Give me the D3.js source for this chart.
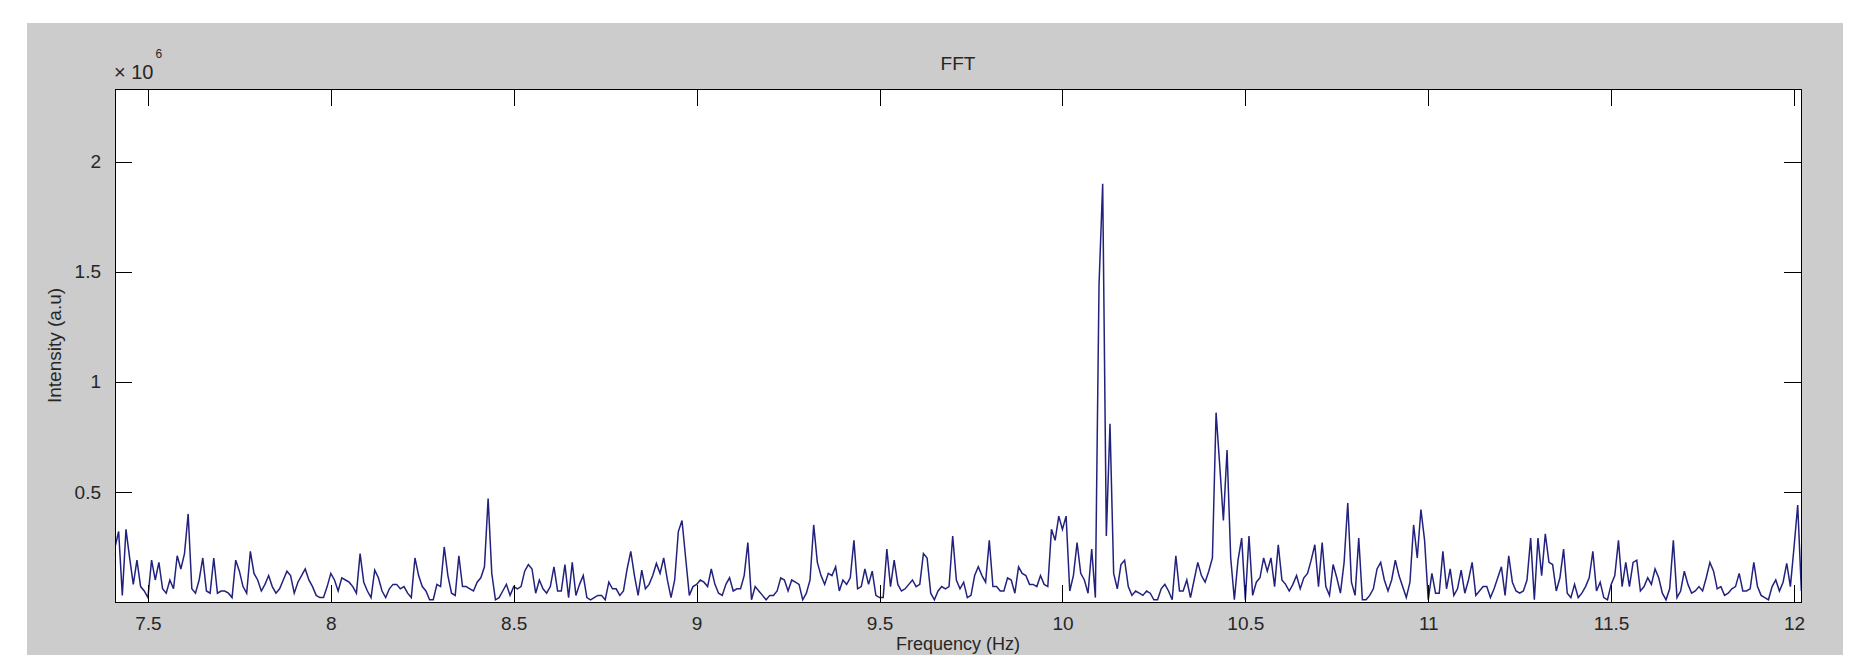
<!DOCTYPE html>
<head>
  <meta charset="utf-8" />
  <script src="https://d3js.org/d3.v7.min.js"></script>
  <style>
    body {
      margin: 0;
      background: #fff;
    }
    text {
      font-family: "Liberation Sans", Arial, sans-serif;
      fill: #262626;
    }
  </style>
</head>

<body>
  <script>
    var width = 1864,
      height = 655;

    // spectre, un point par pas de 0.01 Hz a partir de 7.41 Hz
    var freqStart = 7.41,
      freqStep = 0.01;

    // intensite en unites de 1e6
    var intensity = [
      0.25, 0.32, 0.03, 0.33, 0.2, 0.08, 0.19, 0.07, 0.05, 0.02,
      0.19, 0.1, 0.18, 0.06, 0.04, 0.1, 0.06, 0.21, 0.15, 0.22,
      0.4, 0.06, 0.04, 0.1, 0.2, 0.05, 0.04, 0.2, 0.04, 0.05,
      0.05, 0.04, 0.02, 0.19, 0.14, 0.07, 0.04, 0.23, 0.13, 0.1,
      0.05, 0.08, 0.12, 0.07, 0.04, 0.06, 0.1, 0.14, 0.12, 0.04,
      0.09, 0.12, 0.15, 0.1, 0.07, 0.03, 0.02, 0.02, 0.07, 0.13,
      0.1, 0.05, 0.11, 0.1, 0.09, 0.07, 0.04, 0.22, 0.09, 0.05,
      0.02, 0.145, 0.11, 0.05, 0.02, 0.06, 0.08, 0.08, 0.06, 0.07,
      0.04, 0.02, 0.2, 0.12, 0.07, 0.05, 0.01, 0.01, 0.08, 0.07,
      0.25, 0.12, 0.04, 0.03, 0.21, 0.07, 0.07, 0.06, 0.05, 0.09,
      0.11, 0.16, 0.47, 0.13, 0.01, 0.02, 0.05, 0.08, 0.03, 0.07,
      0.06, 0.07, 0.14, 0.17, 0.15, 0.04, 0.1, 0.06, 0.04, 0.07,
      0.16, 0.05, 0.05, 0.17, 0.02, 0.18, 0.03, 0.08, 0.12, 0.02,
      0.01, 0.02, 0.03, 0.03, 0.01, 0.09, 0.06, 0.06, 0.03, 0.05,
      0.15, 0.23, 0.12, 0.03, 0.145, 0.06, 0.08, 0.12, 0.175, 0.13,
      0.2, 0.1, 0.02, 0.1, 0.32, 0.37, 0.2, 0.03, 0.07, 0.08,
      0.1, 0.09, 0.07, 0.15, 0.08, 0.04, 0.03, 0.08, 0.11, 0.05,
      0.06, 0.06, 0.12, 0.27, 0.01, 0.07, 0.05, 0.03, 0.01, 0.03,
      0.03, 0.05, 0.11, 0.1, 0.05, 0.1, 0.09, 0.08, 0.01, 0.04,
      0.1, 0.35, 0.18, 0.12, 0.08, 0.13, 0.12, 0.16, 0.05, 0.1,
      0.08, 0.11, 0.28, 0.06, 0.07, 0.15, 0.08, 0.14, 0.03, 0.02,
      0.02, 0.24, 0.07, 0.19, 0.08, 0.05, 0.06, 0.08, 0.1, 0.07,
      0.08, 0.22, 0.2, 0.04, 0.01, 0.05, 0.07, 0.06, 0.07, 0.3,
      0.1, 0.06, 0.09, 0.02, 0.03, 0.12, 0.16, 0.12, 0.09, 0.28,
      0.07, 0.07, 0.05, 0.05, 0.11, 0.1, 0.04, 0.16, 0.13, 0.12,
      0.08, 0.08, 0.07, 0.12, 0.08, 0.07, 0.33, 0.28, 0.39, 0.33,
      0.39, 0.05, 0.12, 0.27, 0.13, 0.1, 0.04, 0.24, 0.02, 1.44,
      1.9, 0.3, 0.81, 0.13, 0.06, 0.17, 0.19, 0.07, 0.03, 0.05,
      0.04, 0.03, 0.05, 0.04, 0.01, 0.01, 0.06, 0.08, 0.05, 0.01,
      0.21, 0.05, 0.05, 0.1, 0.02, 0.1, 0.18, 0.12, 0.09, 0.14,
      0.2, 0.86, 0.62, 0.37, 0.69, 0.2, 0.01, 0.19, 0.29, 0.01,
      0.3, 0.03, 0.09, 0.11, 0.2, 0.14, 0.2, 0.07, 0.26, 0.1,
      0.08, 0.05, 0.08, 0.12, 0.06, 0.11, 0.13, 0.19, 0.26, 0.07,
      0.27, 0.07, 0.03, 0.17, 0.11, 0.04, 0.18, 0.45, 0.09, 0.03,
      0.29, 0.01, 0.01, 0.03, 0.06, 0.15, 0.18, 0.1, 0.05, 0.1,
      0.19, 0.12, 0.07, 0.02, 0.09, 0.35, 0.2, 0.42, 0.28, 0.01,
      0.13, 0.04, 0.04, 0.23, 0.06, 0.15, 0.03, 0.06, 0.145, 0.04,
      0.1, 0.18, 0.03, 0.05, 0.07, 0.07, 0.02, 0.06, 0.11, 0.16,
      0.03, 0.21, 0.09, 0.05, 0.04, 0.05, 0.1, 0.29, 0.01, 0.29,
      0.12, 0.31, 0.18, 0.17, 0.05, 0.11, 0.24, 0.04, 0.02, 0.08,
      0.02, 0.04, 0.07, 0.11, 0.23, 0.05, 0.09, 0.02, 0.01, 0.08,
      0.12, 0.28, 0.07, 0.18, 0.07, 0.18, 0.19, 0.05, 0.07, 0.11,
      0.08, 0.15, 0.11, 0.04, 0.01, 0.06, 0.28, 0.02, 0.05, 0.14,
      0.08, 0.04, 0.05, 0.07, 0.05, 0.11, 0.18, 0.14, 0.06, 0.07,
      0.03, 0.04, 0.06, 0.07, 0.13, 0.05, 0.05, 0.06, 0.18, 0.07,
      0.03, 0.02, 0.01, 0.07, 0.1, 0.05, 0.09, 0.175, 0.07, 0.25,
      0.44, 0.05
    ];

    var xTicks = [7.5, 8, 8.5, 9, 9.5, 10, 10.5, 11, 11.5, 12];
    var yTicks = [0.5, 1, 1.5, 2];
    var xDomain = [7.41, 12.019];
    var yDomain = [0, 2.33];

    var titleText = "FFT",
      xLabelText = "Frequency (Hz)",
      yLabelText = "Intensity (a.u)";

    var plot = { left: 115, top: 89, right: 1801, bottom: 602 };
    var tickLen = 17;

    var svg = d3
      .select("body")
      .append("svg")
      .attr("width", width)
      .attr("height", height);

    // fond gris de la figure
    svg
      .append("rect")
      .attr("x", 27)
      .attr("y", 23)
      .attr("width", 1816)
      .attr("height", height - 23)
      .attr("fill", "#cccccc");

    svg
      .append("rect")
      .attr("x", plot.left)
      .attr("y", plot.top)
      .attr("width", plot.right - plot.left)
      .attr("height", plot.bottom - plot.top)
      .attr("fill", "#ffffff");

    var x = d3.scaleLinear().domain(xDomain).range([plot.left, plot.right]);
    var y = d3.scaleLinear().domain(yDomain).range([plot.bottom, plot.top]);

    svg
      .append("clipPath")
      .attr("id", "clip")
      .append("rect")
      .attr("x", plot.left)
      .attr("y", plot.top)
      .attr("width", plot.right - plot.left)
      .attr("height", plot.bottom - plot.top);

    var line = d3
      .line()
      .x((d, i) => x(freqStart + i * freqStep))
      .y((d) => y(d));

    svg
      .append("path")
      .datum(intensity)
      .attr("clip-path", "url(#clip)")
      .attr("fill", "none")
      .attr("stroke", "#22227e")
      .attr("stroke-width", 1.5)
      .attr("stroke-linejoin", "miter")
      .attr("d", line);

    var fmt = (d) => String(d);

    function styleAxis(g) {
      g.select(".domain").remove();
      g.selectAll(".tick line").attr("stroke", "#000").attr("shape-rendering", "crispEdges");
      g.selectAll(".tick text")
        .style("font-size", "19px")
        .style("font-family", '"Liberation Sans", Arial, sans-serif')
        .attr("fill", "#262626");
    }

    svg
      .append("g")
      .attr("transform", `translate(0,${plot.bottom})`)
      .call(d3.axisBottom(x).tickValues(xTicks).tickFormat(fmt).tickSize(-tickLen).tickPadding(15))
      .call(styleAxis);

    svg
      .append("g")
      .attr("transform", `translate(0,${plot.top})`)
      .call(d3.axisTop(x).tickValues(xTicks).tickFormat("").tickSize(-tickLen))
      .call(styleAxis);

    svg
      .append("g")
      .attr("transform", `translate(${plot.left},0)`)
      .call(d3.axisLeft(y).tickValues(yTicks).tickFormat(fmt).tickSize(-tickLen).tickPadding(14))
      .call(styleAxis);

    svg
      .append("g")
      .attr("transform", `translate(${plot.right},0)`)
      .call(d3.axisRight(y).tickValues(yTicks).tickFormat("").tickSize(-tickLen))
      .call(styleAxis);

    // cadre
    svg
      .append("rect")
      .attr("x", plot.left)
      .attr("y", plot.top)
      .attr("width", plot.right - plot.left)
      .attr("height", plot.bottom - plot.top)
      .attr("fill", "none")
      .attr("stroke", "#000")
      .attr("stroke-width", 1)
      .attr("shape-rendering", "crispEdges");

    // titre et labels
    svg
      .append("text")
      .attr("x", (plot.left + plot.right) / 2)
      .attr("y", 70)
      .attr("text-anchor", "middle")
      .style("font-size", "19px")
      .text(titleText);

    svg
      .append("text")
      .attr("x", (plot.left + plot.right) / 2)
      .attr("y", 650)
      .attr("text-anchor", "middle")
      .style("font-size", "18px")
      .text(xLabelText);

    svg
      .append("text")
      .attr("transform", `translate(61,${(plot.top + plot.bottom) / 2}) rotate(-90)`)
      .attr("text-anchor", "middle")
      .style("font-size", "19px")
      .text(yLabelText);

    // facteur d'echelle x 10^6
    var mult = svg.append("text").attr("x", 114).attr("y", 79).style("font-size", "20px");
    mult.append("tspan").text("\u00d7 10");
    mult.append("tspan").attr("dx", 2).attr("dy", -21).style("font-size", "12px").text("6");
  </script>
</body>
